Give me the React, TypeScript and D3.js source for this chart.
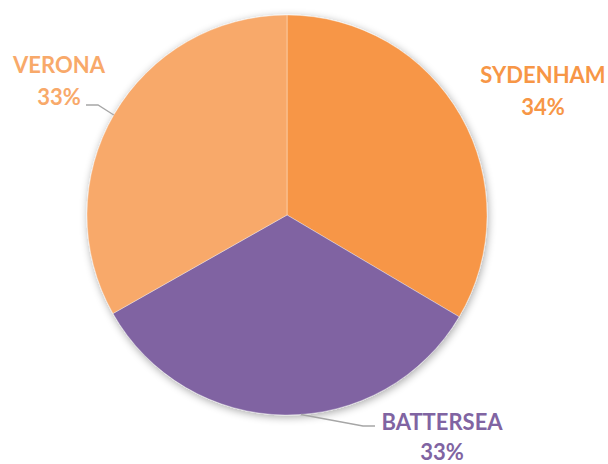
import React from "react";
import * as d3 from "d3";

const categories = ["SYDENHAM", "BATTERSEA", "VERONA"];
const values = [33.5, 33.3, 33.2];
const colors = ["#F79646", "#8064A2", "#F8A96A"];

const W = 608;
const H = 464;
const cx = 287;
const cy = 215;
const R = 200;

// label layout (centre x, first baseline, line gap) and leader edge angle (deg, clockwise from top)
const labelPos: Record<string, { x: number; y: number; gap: number; leader?: { edgeDeg: number; elbow: [number, number]; end: [number, number] } }> = {
  SYDENHAM: { x: 543, y: 83, gap: 32 },
  BATTERSEA: { x: 442, y: 430, gap: 30, leader: { edgeDeg: 176, elbow: [363, 426], end: [375, 426] } },
  VERONA: { x: 59, y: 73, gap: 32, leader: { edgeDeg: 300, elbow: [98, 105], end: [86, 105] } },
};

export default function App() {
  const total = d3.sum(values);
  const pie = d3.pie<number>().sort(null).value((d) => d);
  const arcs = pie(values);
  const arc = d3.arc<d3.PieArcDatum<number>>().innerRadius(0).outerRadius(R);

  return (
    <svg
      width={W}
      height={H}
      style={{ position: "fixed", left: 0, top: 0, background: "#fff" }}
      fontFamily="Lato, 'Open Sans', sans-serif"
    >
      <defs>
        <filter id="shadow" x="-20%" y="-20%" width="140%" height="140%">
          <feGaussianBlur in="SourceAlpha" stdDeviation="4" />
          <feOffset dx="1" dy="2" result="b" />
          <feComponentTransfer>
            <feFuncA type="linear" slope="0.35" />
          </feComponentTransfer>
          <feMerge>
            <feMergeNode />
            <feMergeNode in="SourceGraphic" />
          </feMerge>
        </filter>
      </defs>
      <g transform={`translate(${cx},${cy})`}>
        <g filter="url(#shadow)">
          {arcs.map((a, i) => (
            <path key={i} d={arc(a) || ""} fill={colors[i]} stroke="#fff" strokeOpacity={0.35} strokeWidth={1} />
          ))}
        </g>
      </g>
      {categories.map((c, i) => {
        const lp = labelPos[c];
        const pct = Math.round((values[i] / total) * 100) + "%";
        let leader = null;
        if (lp.leader) {
          const a = (lp.leader.edgeDeg * Math.PI) / 180;
          const ex = cx + R * Math.sin(a);
          const ey = cy - R * Math.cos(a);
          leader = (
            <polyline
              points={`${ex},${ey} ${lp.leader.elbow[0]},${lp.leader.elbow[1]} ${lp.leader.end[0]},${lp.leader.end[1]}`}
              fill="none"
              stroke="#A6A6A6"
              strokeWidth={1.3}
            />
          );
        }
        return (
          <g key={c}>
            {leader}
            <text x={lp.x} y={lp.y} textAnchor="middle" fill={colors[i]} fontWeight="bold" fontSize={22}>
              {c}
            </text>
            <text x={lp.x} y={lp.y + lp.gap} textAnchor="middle" fill={colors[i]} fontWeight="bold" fontSize={22}>
              {pct}
            </text>
          </g>
        );
      })}
    </svg>
  );
}
